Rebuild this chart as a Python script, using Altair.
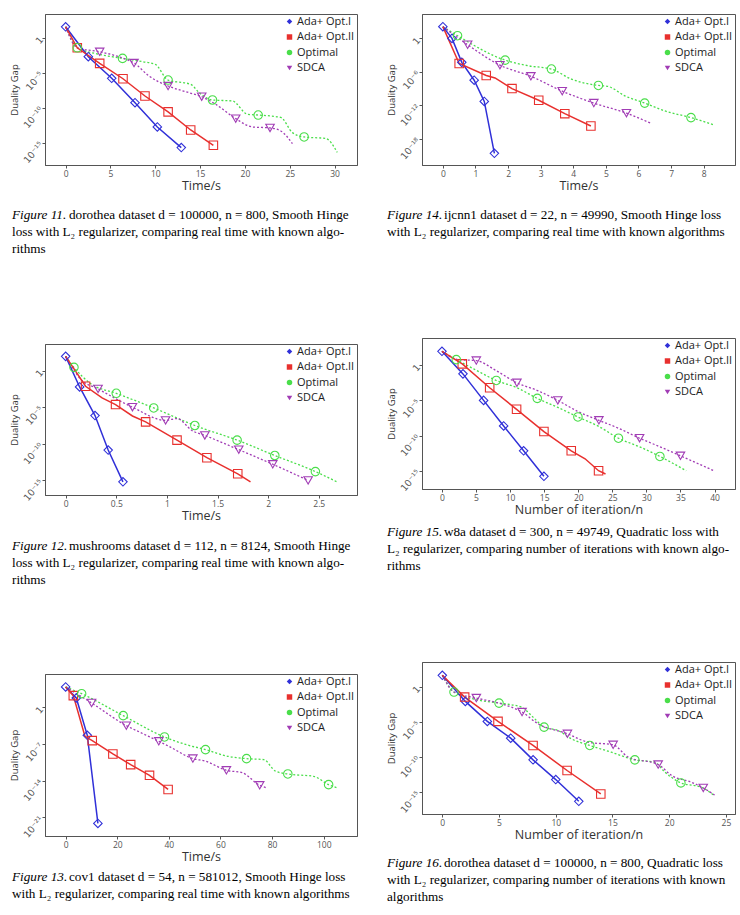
import altair as alt
import pandas as pd

SERIES = ["Ada+ Opt.I", "Ada+ Opt.II", "Optimal", "SDCA"]
COLORS = ["#3030d8", "#e8302e", "#4ade4a", "#a13cb5"]
SHAPES = ["diamond", "square", "circle", "triangle-down"]
SOLID = ["Ada+ Opt.I", "Ada+ Opt.II"]
DOTTED = ["Optimal", "SDCA"]

SANS = "Open Sans"
SERIF = "Liberation Serif"

# Each series: (x, log10 of duality gap, 1 if a marker is drawn at that point)

# Figure 11: dorothea, smooth hinge, real time
F11_OPT1 = [(0, 1.57, 1), (2.53, -2.71, 1), (5.14, -5.8, 1), (7.74, -9.29, 1), (10.23, -12.76, 1), (12.9, -15.71, 1)]
F11_OPT2 = [(0, 1.57, 0), (1.3, -1.43, 1), (3.8, -3.66, 1), (6.4, -5.86, 1), (8.85, -8.33, 1), (11.43, -10.6, 1),
            (13.95, -13.19, 1), (16.48, -15.38, 1)]
F11_OPTIMAL = [(0, 1.57, 0), (1.3, -1.43, 1), (3.5, -2.3, 0), (6.35, -2.95, 1), (8.5, -3.4, 0), (10.0, -3.8, 0),
               (11.43, -6.05, 1), (13.95, -6.66, 0), (14.9, -7.86, 0), (16.38, -8.9, 1), (18.6, -9.04, 0),
               (20.3, -10.95, 0), (21.48, -11.05, 1), (24.0, -11.4, 0), (25.3, -13.57, 0), (26.6, -14.19, 1),
               (29.0, -14.4, 0), (30.3, -16.4, 0)]
F11_SDCA = [(0, 1.57, 0), (1.3, -1.43, 0), (3.8, -2.0, 1), (6.35, -2.9, 0), (7.63, -3.61, 1), (9.3, -5.47, 0),
            (11.43, -6.9, 1), (13.77, -7.86, 0), (15.18, -8.43, 1), (16.74, -9.52, 0), (18.97, -11.57, 1),
            (20.84, -12.76, 0), (22.8, -12.9, 1), (24.0, -13.33, 0), (25.3, -15.14, 0)]

# Figure 14: ijcnn1, smooth hinge, real time
F14_OPT1 = [(0, 2.1, 1), (0.28, 0.0, 1), (0.58, -4.3, 1), (0.96, -7.5, 1), (1.27, -11.3, 1), (1.58, -20.6, 1)]
F14_OPT2 = [(0, 2.1, 0), (0.5, -4.5, 1), (1.33, -6.65, 1), (1.6, -7.1, 0), (2.12, -9.0, 1), (2.94, -11.1, 1),
            (3.74, -13.5, 1), (4.54, -15.7, 1)]
F14_OPTIMAL = [(0, 2.1, 0), (0.45, 0.48, 1), (1.91, -3.9, 1), (2.62, -4.91, 0), (3.33, -5.5, 1), (3.94, -7.3, 0),
               (4.77, -8.44, 1), (5.07, -8.62, 0), (5.58, -10.3, 0), (6.19, -11.6, 1), (6.8, -13.0, 0),
               (7.61, -14.2, 1), (8.31, -15.5, 0)]
F14_SDCA = [(0, 2.1, 0), (0.76, -1.14, 1), (1.75, -4.8, 1), (2.7, -6.8, 1), (3.66, -9.46, 1), (4.63, -11.6, 1),
            (5.63, -13.4, 1), (6.37, -15.2, 0)]

# Figure 12: mushrooms, smooth hinge, real time
F12_OPT1 = [(0, 1.95, 1), (0.138, -2.23, 1), (0.29, -6.14, 1), (0.42, -10.86, 1), (0.566, -15.2, 1)]
F12_OPT2 = [(0, 1.95, 0), (0.197, -2.14, 1), (0.36, -3.73, 0), (0.493, -4.64, 1), (0.66, -6.2, 0), (0.79, -7.0, 1),
            (1.10, -9.5, 1), (1.395, -11.9, 1), (1.70, -14.1, 1), (1.826, -15.2, 0)]
F12_OPTIMAL = [(0, 1.95, 0), (0.082, 0.45, 1), (0.25, -1.8, 0), (0.5, -3.1, 1), (0.87, -5.1, 1), (1.276, -7.5, 1),
               (1.694, -9.5, 1), (2.066, -11.6, 1), (2.467, -13.8, 1), (2.68, -15.2, 0)]
F12_SDCA = [(0, 1.95, 0), (0.15, -1.2, 0), (0.32, -2.5, 1), (0.66, -5.0, 1), (0.987, -6.8, 1), (1.1, -6.55, 0),
            (1.25, -8.2, 0), (1.375, -8.86, 1), (1.71, -10.8, 1), (2.046, -12.8, 1), (2.395, -15.0, 1)]

# Figure 15: w8a, quadratic loss, iterations
F15_OPT1 = [(0, 1.98, 1), (3.08, -1.23, 1), (6.11, -5.0, 1), (9.05, -8.63, 1), (11.98, -12.17, 1), (14.96, -15.8, 1)]
F15_OPT2 = [(0, 1.98, 0), (2.98, 0.19, 1), (7.0, -3.2, 1), (10.95, -6.27, 1), (14.96, -9.43, 1), (18.97, -12.17, 1),
            (21.0, -13.3, 0), (22.98, -15.0, 1), (24.0, -15.47, 0)]
F15_OPTIMAL = [(0, 1.98, 0), (2.1, 0.8, 1), (5.0, -0.7, 0), (7.97, -2.17, 1), (11.0, -3.2, 0), (13.99, -4.72, 1),
               (17.0, -6.0, 0), (19.95, -7.36, 1), (23.0, -8.7, 0), (25.9, -10.38, 1), (29.0, -11.6, 0),
               (31.98, -12.97, 1), (35.84, -15.0, 0)]
F15_SDCA = [(0, 1.98, 0), (2.35, 0.8, 0), (5.04, 0.66, 1), (8.0, -0.8, 0), (11.0, -2.5, 1), (14.0, -3.6, 0),
            (17.0, -5.0, 1), (20.0, -6.6, 0), (23.03, -7.83, 1), (26.0, -9.0, 0), (29.0, -10.38, 1),
            (32.0, -11.6, 0), (35.0, -12.88, 1), (39.9, -15.0, 0)]

# Figure 13: cov1, smooth hinge, real time
F13_OPT1 = [(0, 3.89, 1), (4.13, 1.78, 1), (8.39, -5.35, 1), (12.5, -22.2, 1)]
F13_OPT2 = [(0, 3.89, 0), (2.97, 2.23, 1), (7.48, -5.54, 0), (10.3, -6.37, 1), (18.3, -8.92, 1), (25.2, -10.96, 1),
            (32.5, -13.0, 1), (39.7, -15.7, 1)]
F13_OPTIMAL = [(0, 3.89, 0), (6.19, 2.61, 1), (22.3, -1.59, 1), (38.3, -5.67, 1), (46.5, -7.1, 0), (54.2, -8.09, 1),
               (63.2, -9.4, 0), (70.1, -9.81, 1), (76.8, -10.0, 0), (81.3, -12.2, 0), (86.1, -12.74, 1),
               (96.1, -13.2, 0), (101.9, -14.78, 1), (105.2, -15.4, 0)]
F13_SDCA = [(0, 3.89, 0), (10.06, 0.83, 1), (23.5, -3.5, 1), (29.8, -5.0, 0), (36.1, -6.5, 1), (40.0, -7.45, 0),
            (49.3, -9.8, 1), (54.2, -10.3, 0), (62.3, -12.04, 1), (68.4, -12.5, 0), (75.2, -14.9, 1),
            (77.8, -15.4, 0)]

# Figure 16: dorothea, quadratic loss, iterations
F16_OPT1 = [(0, 1.67, 1), (2.03, -2.05, 1), (3.97, -4.9, 1), (6.03, -7.29, 1), (8.0, -10.38, 1), (10.0, -13.19, 1),
            (12.03, -16.29, 1)]
F16_OPT2 = [(0, 1.67, 0), (1.97, -1.43, 1), (4.91, -4.9, 1), (8.0, -8.33, 1), (11.0, -11.9, 1), (13.97, -15.24, 1)]
F16_OPTIMAL = [(0, 1.67, 0), (1.03, -0.71, 1), (3.0, -1.8, 0), (5.0, -2.29, 1), (6.97, -2.86, 0), (8.0, -4.29, 0),
               (8.97, -5.71, 1), (10.2, -6.19, 0), (11.38, -7.38, 0), (13.0, -8.33, 1), (14.9, -9.29, 0),
               (16.97, -10.38, 1), (18.7, -10.7, 0), (19.6, -12.1, 0), (21.03, -13.67, 1), (22.85, -14.3, 0),
               (24.0, -15.5, 0)]
F16_SDCA = [(0, 1.67, 0), (1.03, -0.71, 0), (3.0, -1.57, 1), (5.0, -2.3, 0), (7.03, -3.57, 1), (8.44, -5.24, 0),
            (11.03, -6.67, 1), (12.85, -7.86, 0), (15.06, -8.24, 1), (16.4, -10.0, 0), (19.03, -11.05, 1),
            (20.2, -12.6, 0), (22.0, -13.6, 0), (23.0, -14.38, 1), (24.0, -15.4, 0)]

CAP11 = [("Figure 11.", "dorothea dataset d = 100000, n = 800, Smooth Hinge"),
         "loss with L\u2082 regularizer, comparing real time with known algo-",
         "rithms"]
CAP14 = [("Figure 14.", "ijcnn1 dataset d = 22, n = 49990, Smooth Hinge loss"),
         "with L\u2082 regularizer, comparing real time with known algorithms"]
CAP12 = [("Figure 12.", "mushrooms dataset d = 112, n = 8124, Smooth Hinge"),
         "loss with L\u2082 regularizer, comparing real time with known algo-",
         "rithms"]
CAP15 = [("Figure 15.", "w8a dataset d = 300, n = 49749, Quadratic loss with"),
         "L\u2082 regularizer, comparing number of iterations with known algo-",
         "rithms"]
CAP13 = [("Figure 13.", "cov1 dataset d = 54, n = 581012, Smooth Hinge loss"),
         "with L\u2082 regularizer, comparing real time with known algorithms"]
CAP16 = [("Figure 16.", "dorothea dataset d = 100000, n = 800, Quadratic loss"),
         "with L\u2082 regularizer, comparing number of iterations with known",
         "algorithms"]

SUP = str.maketrans("-0123456789", "\u207b\u2070\u00b9\u00b2\u00b3\u2074\u2075\u2076\u2077\u2078\u2079")


def gap_label(e):
    return "1" if e == 0 else "10" + str(e).translate(SUP)


def label_expr(exps):
    expr = "''"
    for e in exps:
        expr = f"round(log(datum.value) / LN10) == {e} ? '{gap_label(e)}' : ({expr})"
    return expr


def panel(series, xdom, edom, xticks, exps, xtitle, caption, cap_x, cap_dy, width, height):
    rows = []
    for name, pts in zip(SERIES, series):
        for i, (x, e, m) in enumerate(pts):
            rows.append({"series": name, "x": x, "gap": 10.0 ** e, "marker": m, "step": i})
    df = pd.DataFrame(rows)

    color_scale = alt.Scale(domain=SERIES, range=COLORS)
    shape_scale = alt.Scale(domain=SERIES, range=SHAPES)
    base = alt.Chart(df).encode(
        x=alt.X("x:Q", scale=alt.Scale(domain=xdom, nice=False, zero=False),
                axis=alt.Axis(values=xticks, title=xtitle, format="~f")),
        y=alt.Y("gap:Q", scale=alt.Scale(type="log", domain=[10.0 ** edom[0], 10.0 ** edom[1]], nice=False),
                axis=alt.Axis(values=[10.0 ** e for e in exps], labelExpr=label_expr(exps),
                              title="Duality Gap")),
        color=alt.Color("series:N", scale=color_scale, legend=alt.Legend(title=None)),
    )
    # invisible filled symbols that carry the legend
    key = base.transform_filter("datum.marker == 1").mark_point(filled=True, opacity=0, size=30).encode(
        shape=alt.Shape("series:N", scale=shape_scale, legend=alt.Legend(title=None)))
    dotted = base.transform_filter(alt.FieldOneOfPredicate(field="series", oneOf=DOTTED)).mark_line(
        strokeWidth=1.3, strokeDash=[2, 2], interpolate="monotone")
    solid = base.transform_filter(alt.FieldOneOfPredicate(field="series", oneOf=SOLID)).mark_line(
        strokeWidth=1.5)
    markers = base.transform_filter("datum.marker == 1").mark_point(
        filled=False, size=72, strokeWidth=1.1, opacity=1).encode(
        shape=alt.Shape("series:N", scale=shape_scale, legend=alt.Legend(title=None)))

    caps = []
    line_gap = 16.8
    for k, line in enumerate(caption):
        y = height + cap_dy + k * line_gap
        if isinstance(line, tuple):
            head, rest = line
            caps.append(alt.Chart(pd.DataFrame({"t": [head]})).mark_text(
                align="left", baseline="middle", font=SERIF, fontSize=13.2, fontStyle="italic",
                color="#000").encode(x=alt.value(cap_x), y=alt.value(y), text="t:N"))
            caps.append(alt.Chart(pd.DataFrame({"t": [rest]})).mark_text(
                align="left", baseline="middle", font=SERIF, fontSize=13.2, color="#000").encode(
                x=alt.value(cap_x + 57), y=alt.value(y), text="t:N"))
        else:
            caps.append(alt.Chart(pd.DataFrame({"t": [line]})).mark_text(
                align="left", baseline="middle", font=SERIF, fontSize=13.2, color="#000").encode(
                x=alt.value(cap_x), y=alt.value(y), text="t:N"))

    return alt.layer(key, dotted, solid, markers, *caps).properties(width=width, height=height)


p11 = panel([F11_OPT1, F11_OPT2, F11_OPTIMAL, F11_SDCA], [-2.3, 32.5], [-18.2, 3.4],
            [0, 5, 10, 15, 20, 25, 30], [0, -5, -10, -15], "Time/s", CAP11, -33, 50, 312, 151)
p12 = panel([F12_OPT1, F12_OPT2, F12_OPTIMAL, F12_SDCA], [-0.204, 2.878], [-17.0, 3.64],
            [0, 0.5, 1, 1.5, 2, 2.5], [0, -5, -10, -15], "Time/s", CAP12, -33, 51, 312, 151)
p13 = panel([F13_OPT1, F13_OPT2, F13_OPTIMAL, F13_SDCA], [-8.0, 112.9], [-24.6, 6.37],
            [0, 20, 40, 60, 80, 100], [0, -7, -14, -21], "Time/s", CAP13, -33, 41, 312, 162)
p14 = panel([F14_OPT1, F14_OPT2, F14_OPTIMAL, F14_SDCA], [-0.64, 8.96], [-22.7, 4.37],
            [0, 1, 2, 3, 4, 5, 6, 7, 8], [0, -6, -12, -18], "Time/s", CAP14, -35, 50, 313, 151)
p15 = panel([F15_OPT1, F15_OPT2, F15_OPTIMAL, F15_SDCA], [-2.93, 43.0], [-17.6, 3.87],
            [0, 5, 10, 15, 20, 25, 30, 35, 40], [0, -5, -10, -15], "Number of iteration/n", CAP15, -35, 43,
            313, 151)
p16 = panel([F16_OPT1, F16_OPT2, F16_OPTIMAL, F16_SDCA], [-1.79, 25.8], [-18.1, 3.57],
            [0, 5, 10, 15, 20, 25], [0, -5, -10, -15], "Number of iteration/n", CAP16, -35, 49, 313, 152)

left = alt.vconcat(p11, p12, p13, spacing=179, bounds="flush").resolve_scale(
    color="independent", shape="independent")
right = alt.vconcat(p14, p15, p16, spacing=173, bounds="flush").resolve_scale(
    color="independent", shape="independent")

chart = alt.hconcat(left, right, spacing=27).resolve_scale(
    color="independent", shape="independent"
).properties(
    padding={"left": 8, "top": 13, "right": 0, "bottom": 0}
).configure_view(
    stroke="#555", strokeWidth=1
).configure_axis(
    grid=False, labelFont=SANS, labelColor="#555", tickColor="#555", domainColor="#555",
    tickSize=3, titleFont=SANS, titleFontWeight="normal", titleColor="#333"
).configure_axisX(
    labelFontSize=8.5, titleFontSize=12.5, titlePadding=2, labelPadding=1
).configure_axisY(
    labelFont="DejaVu Sans", labelFontSize=9.5, titleFontSize=9.5, titlePadding=2, labelPadding=1,
    labelAngle=310, labelAlign="right", labelBaseline="middle"
).configure_legend(
    orient="top-right", offset=2, padding=0, labelFont=SANS, labelFontSize=11, labelColor="#222",
    symbolSize=30, symbolStrokeWidth=0, rowPadding=3.5, labelOffset=2, symbolOpacity=1
)

chart.save("out.html", embed_options={"renderer": "svg", "actions": False})
